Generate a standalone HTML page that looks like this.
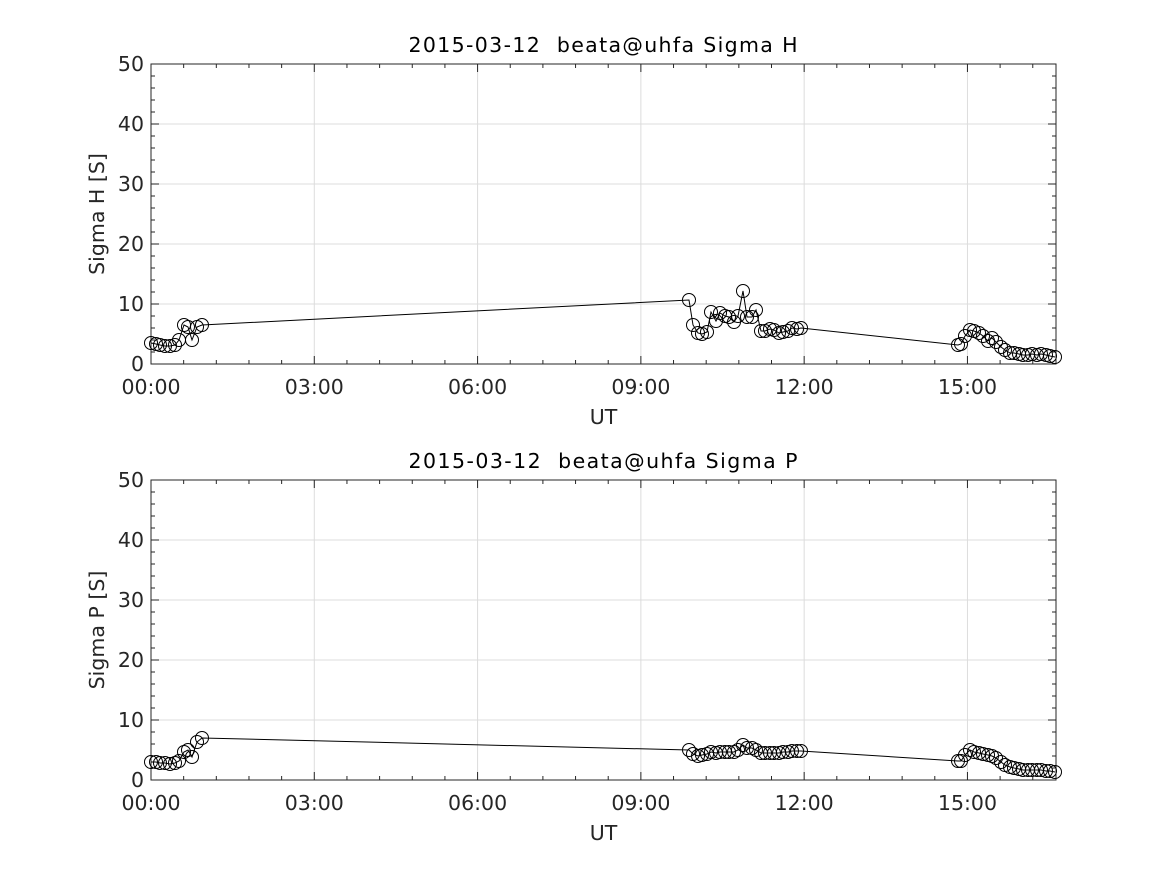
<!DOCTYPE html>
<html><head><meta charset="utf-8"><style>
html,body{margin:0;padding:0;background:#fff;}
svg{display:block;font-family:"DejaVu Sans",sans-serif;}
</style></head><body>
<svg id="s" width="1167" height="875" xmlns="http://www.w3.org/2000/svg"></svg>
<script>
const s=document.getElementById('s');
let h='<rect width="1167" height="875" fill="#fff"/>';
const X0=151,X1=1056,pxh=54.43;
function panel(top,title,ylab,pts,line){
  const bot=top+300;
  for(let i=1;i<5;i++){let y=bot-i*60;h+=`<line x1="${X0}" x2="${X1}" y1="${y}" y2="${y}" stroke="#dcdcdc"/>`;}
  for(let i=1;i<=5;i++){let x=X0+i*3*pxh;h+=`<line x1="${x}" x2="${x}" y1="${top}" y2="${bot}" stroke="#dcdcdc"/>`;}
  for(let v=0;v<=50;v+=2){let y=bot-v*6,L=(v%10==0)?8:4;
    h+=`<line x1="${X0}" x2="${X0+L}" y1="${y}" y2="${y}" stroke="#262626"/><line x1="${X1}" x2="${X1-L}" y1="${y}" y2="${y}" stroke="#262626"/>`;}
  for(let m=0;m<=16.7*60;m+=36){let x=X0+m/60*pxh;if(x>X1)break;let L=(m%180==0)?8:4;
    h+=`<line x1="${x}" x2="${x}" y1="${bot}" y2="${bot-L}" stroke="#262626"/><line x1="${x}" x2="${x}" y1="${top}" y2="${top+L}" stroke="#262626"/>`;}
  h+=`<rect x="${X0}" y="${top}" width="${X1-X0}" height="300" fill="none" stroke="#262626"/>`;
  for(let v=0;v<=50;v+=10){h+=`<text x="${X0-7}" y="${bot-v*6+7}" font-size="20.5" text-anchor="end" fill="#262626">${v}</text>`;}
  const labs=['00:00','03:00','06:00','09:00','12:00','15:00'];
  labs.forEach((t,i)=>{h+=`<text x="${X0+i*3*pxh}" y="${bot+30}" font-size="20.5" text-anchor="middle" fill="#262626">${t}</text>`;});
  h+=`<text x="${(X0+X1)/2}" y="${bot+60}" font-size="20.5" text-anchor="middle" fill="#262626">UT</text>`;
  h+=`<text x="603" y="${top-12}" font-size="20.5" text-anchor="middle" fill="#000" textLength="389">${title}</text>`;
  h+=`<text transform="translate(104,${top+150}) rotate(-90)" font-size="20.5" text-anchor="middle" fill="#262626">${ylab}</text>`;
  h+=`<polyline fill="none" stroke="#000" stroke-width="1" points="${pts.map(p=>p[0]+','+(p[1]+top)).join(' ')}"/>`;
  pts.forEach(p=>{h+=`<circle cx="${p[0]}" cy="${p[1]+top}" r="6.5" fill="none" stroke="#000" stroke-width="1"/>`;});
}
const A=[[151,343],[156,344],[160,345],[165,346],[170,346],[175,345],[179,340],[184,325],[188,327],[192,340],[197,327],[202,325],
[689,300],[693,325],[698,333],[702,334],[707,332],[711,312],[716,321],[720,313],[725,316],[729,317],[734,322],[738,316],[743,291],[747,317],[752,317],[756,310],[761,331],[765,331],[770,329],[774,330],[779,333],[783,332],[788,331],[792,328],[797,329],[801,328],
[958,345],[961,344],[965,336],[970,330],[974,331],[979,333],[983,336],[988,341],[992,338],[996,342],[1001,347],[1005,350],[1010,353],[1014,353],[1019,354],[1023,355],[1028,355],[1032,354],[1037,355],[1041,354],[1046,355],[1050,356],[1055,357]].map(p=>[p[0],p[1]-64]);
const B=[[151,762],[156,762],[160,763],[165,763],[170,764],[175,763],[179,761],[184,752],[188,750],[192,757],[197,742],[202,738],
[689,750],[693,754],[698,756],[702,755],[707,754],[711,752],[716,753],[720,752],[725,752],[729,752],[734,752],[738,750],[743,745],[747,748],[752,748],[756,750],[761,753],[765,753],[770,753],[774,753],[779,753],[783,752],[788,752],[792,751],[797,751],[801,751],
[958,761],[961,761],[965,755],[970,750],[974,752],[979,753],[983,754],[988,755],[992,756],[996,758],[1001,762],[1005,765],[1010,767],[1014,768],[1019,769],[1023,770],[1028,770],[1032,770],[1037,770],[1041,770],[1046,771],[1050,771],[1055,772]].map(p=>[p[0],p[1]-480]);
panel(64,'2015-03-12&#160; beata@uhfa Sigma H','Sigma H [S]',A);
panel(480,'2015-03-12&#160; beata@uhfa Sigma P','Sigma P [S]',B);
s.innerHTML=h;
</script>
</body></html>
